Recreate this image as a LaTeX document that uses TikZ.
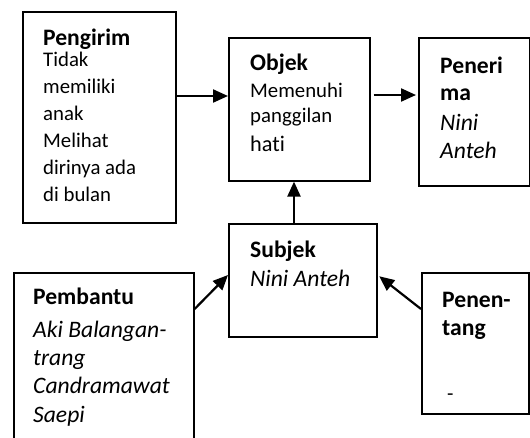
\documentclass[tikz,border=0pt]{standalone}
\usepackage{fontspec}
\setmainfont{Carlito}[Ligatures=NoCommon]
\usetikzlibrary{arrows.meta}
\begin{document}
\begin{tikzpicture}[x=1pt,y=-1pt,
  box/.style={draw, line width=1.6pt, anchor=north west, inner sep=0pt},
  txt/.style={anchor=base west, inner sep=0pt, font=\fontsize{20.8}{24}\selectfont},
  hd/.style={txt, font=\fontsize{23.6}{27}\selectfont\bfseries},
  it/.style={txt, font=\fontsize{23.6}{27}\selectfont\itshape},
  arr/.style={line width=2.2pt, -{Triangle[length=15pt,width=13pt]}}]
\useasboundingbox (0,0) rectangle (530,437);
\clip (0,0) rectangle (530,437);
% boxes
\node[box, minimum width=153pt, minimum height=211pt] (pengirim) at (22,11) {};
\node[box, minimum width=141pt, minimum height=143pt] (objek) at (228,37) {};
\node[box, minimum width=111pt, minimum height=148pt] (penerima) at (418,37) {};
\node[box, minimum width=148pt, minimum height=113pt] (subjek) at (228,223) {};
\node[box, minimum width=180pt, minimum height=180pt] (pembantu) at (13,272) {};
\node[box, minimum width=107pt, minimum height=141pt] (penentang) at (421,272) {};
% texts
\node[hd] (pg1) at (43,45) {Pengirim};
\node[txt] (pg2) at (43,66) {Tidak};
\node[txt] (pg3) at (43,93) {memiliki};
\node[txt] (pg4) at (43,120) {anak};
\node[txt] (pg5) at (43,147) {Melihat};
\node[txt] (pg6) at (43,174) {dirinya ada};
\node[txt] (pg7) at (43,201) {di bulan};
\node[hd] (ob1) at (250,70) {Objek};
\node[txt] (ob2) at (250,97) {Memenuhi};
\node[txt] (ob3) at (250,122) {panggilan};
\node[txt, font=\fontsize{22.3}{26}\selectfont] (ob4) at (250,151) {hati};
\node[hd] (pn1) at (440,73) {Peneri};
\node[hd] (pn2) at (440,100) {ma};
\node[it] (pn3) at (440,130) {Nini};
\node[it] (pn4) at (440,158) {Anteh};
\node[hd] (sb1) at (250,257) {Subjek};
\node[it] (sb2) at (250,286) {Nini Anteh};
\node[hd] (pb1) at (33,304) {Pembantu};
\node[it] (pb2) at (33,337) {Aki Balangan-};
\node[it] (pb3) at (33,365) {trang};
\node[it] (pb4) at (33,393) {Candramawat};
\node[it] (pb5) at (33,422) {Saepi};
\node[hd] (pt1) at (442,307) {Penen-};
\node[hd] (pt2) at (442,335) {tang};
\node[txt] (pt3) at (447,400) {-};
% arrows
\draw[arr] (pengirim.east |- 0,96) -- (objek.west |- 0,96);
\draw[arr, shorten <=3pt, shorten >=2pt] (objek.east |- 0,95) -- (penerima.west |- 0,95);
\draw[arr] (subjek.north -| 294,0) -- (objek.south -| 294,0);
\draw[arr] (pembantu.east |- 0,309) -- (subjek.west |- 0,275);
\draw[arr, shorten >=2pt] (penentang.west |- 0,309) -- (subjek.east |- 0,275);
\end{tikzpicture}
\end{document}
